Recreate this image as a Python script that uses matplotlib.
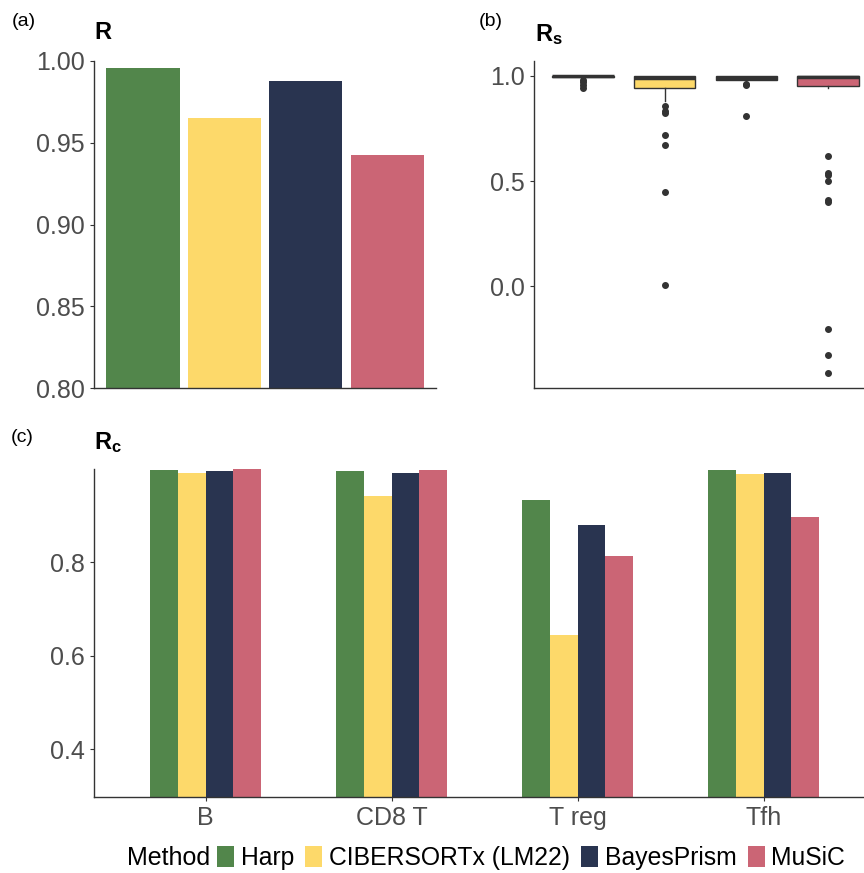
import numpy as np
import matplotlib.pyplot as plt
from matplotlib.patches import Patch

plt.rcParams['font.family'] = ['Liberation Sans', 'DejaVu Sans']
plt.rcParams['mathtext.fontset'] = 'custom'
plt.rcParams['mathtext.rm'] = 'Liberation Sans'
plt.rcParams['mathtext.bf'] = 'Liberation Sans:bold'

# methods and colours
methods = ['Harp', 'CIBERSORTx (LM22)', 'BayesPrism', 'MuSiC']
colors = ['#52864B', '#FDD96A', '#293450', '#CB6575']

# (a) overall correlation
r_values = [0.996, 0.965, 0.988, 0.9425]

# (b) per-sample correlation, box statistics
rs_q1 = [0.996, 0.945, 0.981, 0.953]
rs_med = [0.998, 0.989, 0.990, 0.994]
rs_q3 = [1.000, 0.999, 0.998, 0.999]
rs_whislo = [0.992, 0.883, 0.975, 0.942]
rs_whishi = [1.000, 1.000, 1.000, 1.000]
rs_fliers = [
    [0.980, 0.970, 0.955, 0.945],
    [0.858, 0.834, 0.822, 0.720, 0.670, 0.450, 0.005],
    [0.962, 0.955, 0.810],
    [0.621, 0.540, 0.527, 0.499, 0.409, 0.400, -0.204, -0.327, -0.412],
]

# (c) per-cell-type correlation
cell_types = ['B', 'CD8 T', 'T reg', 'Tfh']
rc_harp = [0.997, 0.995, 0.933, 0.998]
rc_cibersortx = [0.991, 0.943, 0.644, 0.989]
rc_bayesprism = [0.996, 0.992, 0.880, 0.991]
rc_music = [0.999, 0.997, 0.813, 0.897]
rc_all = [rc_harp, rc_cibersortx, rc_bayesprism, rc_music]

tick_col = '#4D4D4D'
line_col = '#333333'
W, H = 864, 873

fig = plt.figure(figsize=(W / 100, H / 100), dpi=100)


def box(l, t, r, b):
    return [l / W, 1 - b / H, (r - l) / W, (b - t) / H]


def style(ax):
    for s in ['top', 'right']:
        ax.spines[s].set_visible(False)
    for s in ['left', 'bottom']:
        ax.spines[s].set_color(line_col)
        ax.spines[s].set_linewidth(1.0)
    ax.tick_params(axis='both', labelsize=18, labelcolor=tick_col,
                   color=line_col, length=3, width=0.8)


# panel (a)
ax1 = fig.add_axes(box(94, 61, 436, 388))
x = np.arange(1, 5)
ax1.bar(x, r_values, width=0.9, color=colors, bottom=0)
ax1.set_ylim(0.8, 1.0)
ax1.set_xlim(0.4, 4.6)
ax1.set_yticks([0.80, 0.85, 0.90, 0.95, 1.00])
ax1.set_yticklabels(['0.80', '0.85', '0.90', '0.95', '1.00'])
ax1.set_xticks([])
style(ax1)

# panel (b)
ax2 = fig.add_axes(box(534, 61, 864, 388))
stats = []
for i in range(4):
    stats.append(dict(med=rs_med[i], q1=rs_q1[i], q3=rs_q3[i],
                      whislo=rs_whislo[i], whishi=rs_whishi[i],
                      fliers=rs_fliers[i]))
bp = ax2.bxp(stats, positions=x, widths=0.75, patch_artist=True,
             showcaps=False,
             boxprops=dict(edgecolor=line_col, linewidth=1.0),
             medianprops=dict(color=line_col, linewidth=2.5),
             whiskerprops=dict(color=line_col, linewidth=1.0),
             flierprops=dict(marker='o', markerfacecolor=line_col,
                             markeredgecolor=line_col, markersize=4))
for patch, c in zip(bp['boxes'], colors):
    patch.set_facecolor(c)
ax2.set_xlim(0.4, 4.44)
ax2.set_ylim(-0.483, 1.071)
ax2.set_yticks([0.0, 0.5, 1.0])
ax2.set_yticklabels(['0.0', '0.5', '1.0'])
ax2.set_xticks([])
style(ax2)

# panel (c)
ax3 = fig.add_axes(box(94, 469, 864, 797))
bw = 0.15
for j in range(4):
    ax3.bar(x + (j - 1.5) * bw, rc_all[j], width=bw, color=colors[j])
ax3.set_xlim(0.4, 4.54)
ax3.set_ylim(0.298, 1.0)
ax3.set_yticks([0.4, 0.6, 0.8])
ax3.set_yticklabels(['0.4', '0.6', '0.8'])
ax3.set_xticks(x)
ax3.set_xticklabels(cell_types)
style(ax3)

# panel letters and titles
fig.text(12 / W, 1 - 22 / H, '(a)', fontsize=14, va='center')
fig.text(479 / W, 1 - 22 / H, '(b)', fontsize=14, va='center')
fig.text(11 / W, 1 - 438 / H, '(c)', fontsize=14, va='center')
fig.text(94 / W, 1 - 33 / H, r'$\mathbf{R}$', fontsize=17, va='center')
fig.text(535 / W, 1 - 35 / H, r'$\mathbf{R_s}$', fontsize=17, va='center')
fig.text(94 / W, 1 - 443 / H, r'$\mathbf{R_c}$', fontsize=17, va='center')

# legend
fig.text(127 / W, 1 - 858 / H, 'Method', fontsize=18, va='center')
handles = [Patch(facecolor=c, edgecolor='none') for c in colors]
fig.legend(handles, methods, loc='center left',
           bbox_to_anchor=(217 / W, 1 - 858 / H), ncol=4, frameon=False,
           fontsize=17.8, handlelength=0.68, handleheight=0.92,
           handletextpad=0.28, columnspacing=0.45, borderpad=0,
           borderaxespad=0)

fig.savefig('out.png', dpi=100)
